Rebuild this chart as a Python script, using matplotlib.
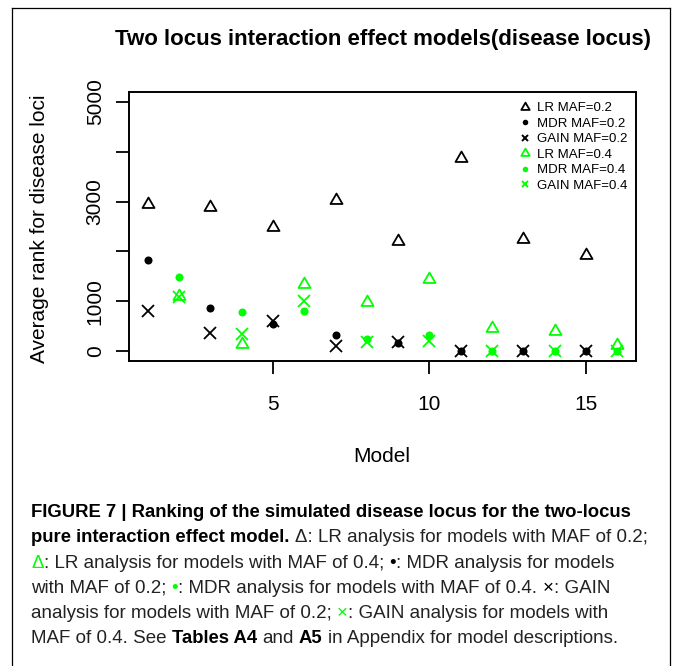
import matplotlib
matplotlib.use("Agg")
import matplotlib.pyplot as plt
from matplotlib.lines import Line2D
from matplotlib.path import Path

plt.rcParams['font.family'] = ['Liberation Sans', 'DejaVu Sans']

# values
models_a = [1, 3, 5, 7, 9, 11, 13, 15]      # MAF 0.2 models
models_b = [2, 4, 6, 8, 10, 12, 14, 16]     # MAF 0.4 models
lr_02 = [2950, 2890, 2490, 3040, 2200, 3880, 2240, 1930]
mdr_02 = [1830, 860, 550, 330, 170, 0, 0, 0]
gain_02 = [800, 370, 600, 110, 180, 0, 0, 0]
lr_04 = [1110, 150, 1350, 980, 1450, 460, 400, 120]
mdr_04 = [1490, 780, 800, 250, 330, 10, 0, 0]
gain_04 = [1080, 340, 1000, 180, 200, 0, 0, 0]

legend_labels = ["LR MAF=0.2", "MDR MAF=0.2", "GAIN MAF=0.2",
                 "LR MAF=0.4", "MDR MAF=0.4", "GAIN MAF=0.4"]
y_ticks = [0, 1000, 2000, 3000, 4000, 5000]
y_ticklabels = ["0", "1000", "", "3000", "", "5000"]
x_ticks = [5, 10, 15]

W, H = 673, 666
GREEN = "#00ff00"
# open equilateral triangle like R pch=2
tri = Path([(-1, -0.577), (1, -0.577), (0, 1.155), (-1, -0.577)],
           [Path.MOVETO, Path.LINETO, Path.LINETO, Path.CLOSEPOLY])

fig = plt.figure(figsize=(W / 100, H / 100), dpi=100)
ax = fig.add_axes([129 / W, 1 - 361 / H, (636 - 129) / W, (361 - 92) / H])

ax.plot(models_a, lr_02, ls='none', marker=tri, ms=10, mfc='none', mec='black', mew=1.3)
ax.plot(models_a, mdr_02, ls='none', marker='o', ms=5.8, mfc='black', mew=0)
ax.plot(models_a, gain_02, ls='none', marker='x', ms=8.4, mec='black', mew=1.3)
ax.plot(models_b, lr_04, ls='none', marker=tri, ms=10, mfc='none', mec=GREEN, mew=1.3)
ax.plot(models_b, mdr_04, ls='none', marker='o', ms=5.8, mfc=GREEN, mew=0)
ax.plot(models_b, gain_04, ls='none', marker='x', ms=8.4, mec=GREEN, mew=1.3)

ax.set_xlim(0.4, 16.6)
ax.set_ylim(-200, 5200)
ax.set_xticks(x_ticks)
ax.set_yticks(y_ticks)
ax.set_yticklabels(y_ticklabels, rotation=90, va='center')
ax.tick_params(direction='out', length=9.5, width=1.3, labelsize=15)
ax.tick_params(axis='x', pad=15)
ax.tick_params(axis='y', pad=8)
for s in ax.spines.values():
    s.set_linewidth(1.4)

# legend
handles = [
    Line2D([], [], ls='none', marker=tri, ms=7, mfc='none', mec='black', mew=1.3),
    Line2D([], [], ls='none', marker='o', ms=4, mfc='black', mew=0),
    Line2D([], [], ls='none', marker='x', ms=5, mec='black', mew=1.4),
    Line2D([], [], ls='none', marker=tri, ms=7, mfc='none', mec=GREEN, mew=1.3),
    Line2D([], [], ls='none', marker='o', ms=4, mfc=GREEN, mew=0),
    Line2D([], [], ls='none', marker='x', ms=5, mec=GREEN, mew=1.4),
]
leg = ax.legend(handles, legend_labels, loc='upper left',
                bbox_to_anchor=((519 - 129) / (636 - 129), 1 - (102 - 92) / (361 - 92)),
                frameon=False, fontsize=9.5, handlelength=0.9, handletextpad=0.5,
                labelspacing=0.25, borderpad=0, borderaxespad=0, numpoints=1)

fig.text(383 / W, 1 - 40 / H, "Two locus interaction effect models(disease locus)",
         ha='center', va='center', fontsize=16, fontweight='bold')
fig.text(40 / W, 1 - 229 / H, "Average rank for disease loci", rotation=90,
         ha='center', va='center', fontsize=15)
fig.text(382 / W, 1 - 457 / H, "Model", ha='center', va='center', fontsize=15)

# outer frame of the figure panel
for xs, ys in [([12, 12], [8, 666]), ([12, 670], [8, 8]), ([670, 670], [8, 666])]:
    fig.add_artist(Line2D([x / W for x in xs], [1 - y / H for y in ys],
                          color='black', lw=0.9, transform=fig.transFigure))

# caption, drawn run by run so bold / green pieces sit inline
CAP_FS = {'bold': 13.3, 'normal': 13.5}
TXT = "#222222"
caption = [
    [("FIGURE 7 | Ranking of the simulated disease locus for the two-locus", 'bold', 'black')],
    [("pure interaction effect model.", 'bold', 'black'),
     (" \u0394: LR analysis for models with MAF of 0.2;", 'normal', TXT)],
    [("\u0394", 'normal', GREEN), (": LR analysis for models with MAF of 0.4; ", 'normal', TXT),
     ("\u2022", 'normal', 'black'), (": MDR analysis for models", 'normal', TXT)],
    [("with MAF of 0.2; ", 'normal', TXT), ("\u2022", 'normal', GREEN),
     (": MDR analysis for models with MAF of 0.4. ", 'normal', TXT),
     ("\u00d7", 'normal', 'black'), (": GAIN", 'normal', TXT)],
    [("analysis for models with MAF of 0.2; ", 'normal', TXT), ("\u00d7", 'normal', GREEN),
     (": GAIN analysis for models with", 'normal', TXT)],
    [("MAF of 0.4. See ", 'normal', TXT), ("Tables A4", 'bold', 'black'),
     (" and ", 'normal', TXT), ("A5", 'bold', 'black'),
     (" in Appendix for model descriptions.", 'normal', TXT)],
]

renderer = fig.canvas.get_renderer()


def width_px(s, weight):
    t = fig.text(0, 0, s, fontsize=CAP_FS[weight], fontweight=weight)
    w = t.get_window_extent(renderer).width
    t.remove()
    return w


space_w = {w: width_px("a a", w) - width_px("aa", w) for w in ('normal', 'bold')}

y_base = 517
for line in caption:
    x = 31.0
    for txt, weight, color in line:
        core = txt.strip()
        lead = len(txt) - len(txt.lstrip())
        trail = len(txt) - len(txt.rstrip())
        x += lead * space_w[weight]
        t = fig.text(x / W, 1 - y_base / H, core, fontsize=CAP_FS[weight], fontweight=weight,
                     color=color, ha='left', va='baseline')
        x += t.get_window_extent(renderer).width + trail * space_w[weight]
    y_base += 25.3

fig.savefig("out.png", dpi=100)
